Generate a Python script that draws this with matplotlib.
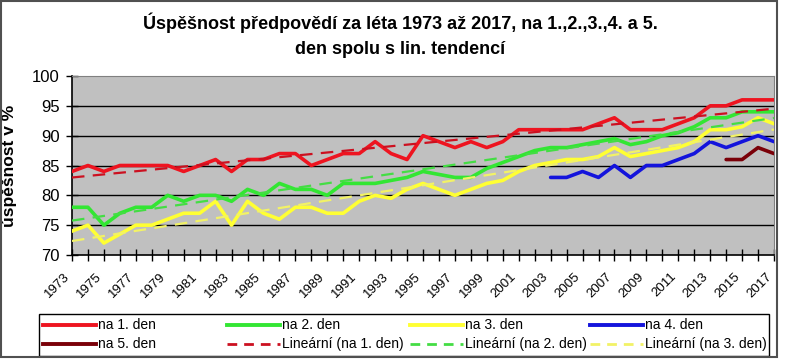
import numpy as np
import matplotlib
matplotlib.use("Agg")
import matplotlib.pyplot as plt
from matplotlib.lines import Line2D
from matplotlib.patches import Rectangle
from matplotlib.transforms import ScaledTranslation

plt.rcParams['font.family'] = ['Liberation Sans', 'DejaVu Sans']
plt.rcParams['lines.scale_dashes'] = False

# -------------------- data --------------------
years = list(range(1973, 2018))

den1 = [84, 85, 84, 85, 85, 85, 85, 84, 85, 86,
        84, 86, 86, 87, 87, 85, 86, 87, 87, 89,
        87, 86, 90, 89, 88, 89, 88, 89, 91, 91,
        91, 91, 91, 92, 93, 91, 91, 91, 92, 93,
        95, 95, 96, 96, 96]

den2 = [78, 78, 75, 77, 78, 78, 80, 79, 80, 80,
        79, 81, 80, 82, 81, 81, 80, 82, 82, 82,
        82.5, 83, 84, 83.5, 83, 83, 84.5, 85.5, 86.5, 87.5,
        88, 88, 88.5, 89, 89.5, 88.5, 89, 90, 90.5, 91.5,
        93, 93, 94, 94, 94]

den3 = [74, 75, 72, 73.5, 75, 75, 76, 77, 77, 79,
        75, 79, 77, 76, 78, 78, 77, 77, 79, 80,
        79.5, 81, 82, 81, 80, 81, 82, 82.5, 84, 85,
        85.5, 86, 86, 86.5, 88, 86.5, 87, 87.5, 88, 89,
        91, 91, 91.5, 93, 92]

years4 = list(range(2003, 2018))
den4 = [83, 83, 84, 83, 85, 83, 85, 85, 86, 87, 89, 88, 89, 90, 89]

years5 = list(range(2014, 2018))
den5 = [86, 86, 88, 87]

series_labels = ['na 1. den', 'na 2. den', 'na 3. den', 'na 4. den', 'na 5. den']
trend_labels = ['Lineární (na 1. den)', 'Lineární (na 2. den)', 'Lineární (na 3. den)']

title = 'Úspěšnost předpovědí za léta 1973 až 2017, na 1.,2.,3.,4. a 5.\nden spolu s lin. tendencí'

# -------------------- styles --------------------
c1, c2, c3, c4, c5 = '#ee1420', '#33e633', '#ffff33', '#1414dc', '#7a0008'
t1, t2, t3 = '#cc1020', '#44dd44', '#f2f266'
lw_series = 2.6
lw_trend = 1.6
dash = (9, 6)

W, H = 786, 359
fig = plt.figure(figsize=(W / 100, H / 100), dpi=100)
fig.patch.set_facecolor('white')


def fx(px):
    return px / W


def fy(py):
    return 1 - py / H


ax = fig.add_axes([fx(72), fy(255), fx(774) - fx(72), fy(76) - fy(255)])
ax.set_facecolor('#c0c0c0')

# trend lines (least squares, like Excel "Lineární")
for vals, col in [(den1, t1), (den2, t2), (den3, t3)]:
    k, q = np.polyfit(years, vals, 1)
    yy = k * np.array(years) + q
    ax.plot(years, yy, color=col, lw=lw_trend, dashes=dash, zorder=4)

for xs, vals, col in [(years, den1, c1), (years, den2, c2), (years, den3, c3),
                      (years4, den4, c4), (years5, den5, c5)]:
    ax.plot(xs, vals, color=col, lw=lw_series, solid_joinstyle='round',
            solid_capstyle='round', zorder=3)

ax.set_xlim(1973, 2017)
ax.set_ylim(70, 100)
ax.set_yticks(range(70, 101, 5))
for v in range(75, 100, 5):
    ax.axhline(v, color='black', lw=1.0, zorder=1)

ax.set_xticks(years, minor=True)
ax.set_xticks(years[::2])
ax.set_xticklabels([str(y) for y in years[::2]], rotation=45, ha='right', fontsize=9.5)
for lab in ax.get_xticklabels():
    lab.set_transform(lab.get_transform() + ScaledTranslation(-4 / 100, 0, fig.dpi_scale_trans))
ax.tick_params(axis='x', which='both', direction='inout', length=8, width=1, pad=7)
ax.tick_params(axis='y', direction='inout', length=8, width=1, labelsize=12, pad=5)

for s in ['top', 'right']:
    ax.spines[s].set_color('#808080')
for s in ['left', 'bottom']:
    ax.spines[s].set_color('black')
    ax.spines[s].set_linewidth(1.2)

ax.set_ylabel('úspěšnost v %', fontsize=12.5, fontweight='bold')
ax.yaxis.set_label_coords((17 - 72) / (774 - 72), 0.5)

fig.text(fx(400), fy(35), title, ha='center', va='center', fontsize=13,
         fontweight='bold', linespacing=1.65)

# -------------------- legend --------------------
fig.add_artist(Rectangle((fx(39), fy(356)), fx(769) - fx(39), fy(314) - fy(356),
                         transform=fig.transFigure, fill=False, ec='black', lw=1.0))

entries = [
    (series_labels[0], c1, None), (series_labels[1], c2, None),
    (series_labels[2], c3, None), (series_labels[3], c4, None),
    (series_labels[4], c5, None), (trend_labels[0], t1, dash),
    (trend_labels[1], t2, dash), (trend_labels[2], t3, dash),
]
col_x = [43, 227, 410, 590]
row_y = [325, 344]
for i, (lab, col, d) in enumerate(entries):
    x0 = col_x[i % 4]
    y0 = row_y[i // 4]
    ln = Line2D([fx(x0), fx(x0 + 53)], [fy(y0), fy(y0)], transform=fig.transFigure,
                color=col, lw=2.8 if d is None else 2.0)
    if d is not None:
        ln.set_dashes((7, 5))
    fig.add_artist(ln)
    fig.text(fx(x0 + 55), fy(y0), lab, ha='left', va='center', fontsize=10)

# outer chart border
fig.add_artist(Rectangle((fx(1), fy(357)), fx(777) - fx(1), fy(1) - fy(357),
                         transform=fig.transFigure, fill=False, ec='#505050', lw=1.5))

fig.savefig('out.png', dpi=100)
